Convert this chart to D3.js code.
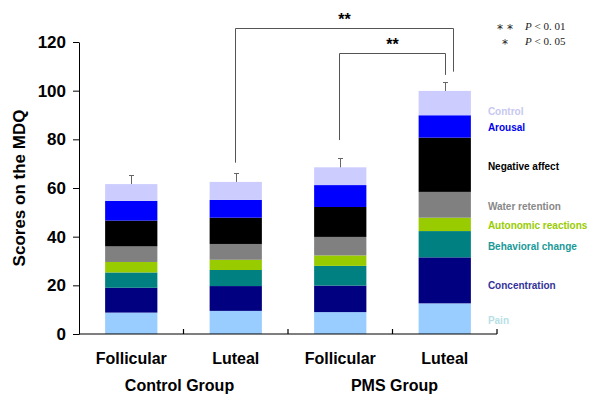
<!DOCTYPE html>
<html><head><meta charset="utf-8">
<script src="https://cdn.jsdelivr.net/npm/d3@7"></script>
<style>body{margin:0;background:#fff}svg{display:block}</style>
</head><body><div id="chart"></div>
<script>
const phases = ["Follicular", "Luteal", "Follicular", "Luteal"];
const groups = ["Control Group", "PMS Group"];
const subscales = ["Pain", "Concentration", "Behavioral change", "Autonomic reactions", "Water retention", "Negative affect", "Arousal", "Control"];
const pain          = [8.8, 9.5, 9.0, 12.6];
const concentration = [10.2, 10.2, 10.9, 18.9];
const behavioral    = [6.3, 6.6, 8.1, 10.8];
const autonomic     = [4.3, 4.2, 4.3, 5.5];
const water         = [6.4, 6.5, 7.6, 10.6];
const negative      = [10.6, 10.8, 12.3, 22.3];
const arousal       = [8.1, 7.3, 9.0, 9.2];
const control       = [6.9, 7.4, 7.3, 10.0];
const errorTops     = [65.3, 66.0, 72.2, 103.4];
const yTicks        = [0, 20, 40, 60, 80, 100, 120];
// significance brackets: bar indexes, level of top line, leg ends
const brackets = [
  {from: 1, to: 3, top: 125.6, leftEnd: 70.4, rightEnd: 107.8, label: "**"},
  {from: 2, to: 3, top: 115.4, leftEnd: 79.7, rightEnd: 106.5, label: "**"}
];
const sigNotes = [["**", "P < 0. 01"], ["*", "P < 0. 05"]];

const segColors = ["#99ccff", "#000080", "#008080", "#99cc00", "#808080", "#000000", "#0000ff", "#ccccff"];
const labelColors = ["#b8dfe6", "#333399", "#1a9999", "#99cc00", "#888888", "#000000", "#0000ee", "#c8c8f0"];
const series = [pain, concentration, behavioral, autonomic, water, negative, arousal, control];

const W = 600, H = 402;
const svg = d3.select("#chart").append("svg").attr("width", W).attr("height", H);

const x = d3.scaleBand().domain(d3.range(phases.length)).range([79, 497]).paddingInner(0.5).paddingOuter(0.25);
const y = d3.scaleLinear().domain([0, 120]).range([334, 42]);

const rows = phases.map((p, i) => { const o = {i}; subscales.forEach((s, k) => o[s] = series[k][i]); return o; });
const stacked = d3.stack().keys(subscales)(rows);

// bars
svg.append("g").selectAll("g").data(stacked).join("g")
  .attr("fill", (d, k) => segColors[k])
  .selectAll("rect").data(d => d).join("rect")
  .attr("x", (d, i) => x(i)).attr("width", x.bandwidth())
  .attr("y", d => y(d[1])).attr("height", d => y(d[0]) - y(d[1]));

// error bars
const totals = rows.map((r, i) => d3.sum(series, s => s[i]));
const eb = svg.append("g").attr("stroke", "#666").attr("stroke-width", 1);
errorTops.forEach((e, i) => {
  const cx = Math.round(x(i) + x.bandwidth() / 2) + 0.5;
  eb.append("line").attr("x1", cx).attr("x2", cx).attr("y1", y(totals[i])).attr("y2", y(e));
  eb.append("line").attr("x1", cx - 2.5).attr("x2", cx + 2.5).attr("y1", Math.round(y(e)) + 0.5).attr("y2", Math.round(y(e)) + 0.5);
});

// axes
const yAxis = svg.append("g").attr("transform", "translate(79,0)")
  .call(d3.axisLeft(y).tickValues(yTicks).tickSize(6).tickPadding(7).tickSizeOuter(0));
yAxis.select(".domain").attr("stroke", "#000");
yAxis.selectAll("text").attr("font-family", "Liberation Sans, Arial, sans-serif").attr("font-weight", "bold").attr("font-size", 17).attr("fill", "#000");

const xb = svg.append("g").attr("stroke", "#000").attr("stroke-width", 1.2);
xb.append("line").attr("x1", 79).attr("x2", 497).attr("y1", 334).attr("y2", 334);
const bounds = d3.range(1, phases.length + 1).map(i => x.range()[0] + i * x.step());
xb.selectAll(".tk").data(bounds).join("line").attr("class", "tk")
  .attr("x1", d => d).attr("x2", d => d).attr("y1", 334).attr("y2", 329);

svg.append("g").selectAll("text").data(phases).join("text")
  .attr("x", (d, i) => x(i) + x.bandwidth() / 2).attr("y", 364)
  .attr("text-anchor", "middle").attr("font-family", "Liberation Sans, Arial, sans-serif")
  .attr("font-weight", "bold").attr("font-size", 16).text(d => d);

svg.append("g").selectAll("text").data(groups).join("text")
  .attr("x", (d, g) => (x(g * 2) + x(g * 2 + 1) + x.bandwidth()) / 2 - (g === 0 ? 4 : -2)).attr("y", 391)
  .attr("text-anchor", "middle").attr("font-family", "Liberation Sans, Arial, sans-serif")
  .attr("font-weight", "bold").attr("font-size", 16).text(d => d);

svg.append("text").attr("transform", "translate(25,188) rotate(-90)")
  .attr("text-anchor", "middle").attr("font-family", "Liberation Sans, Arial, sans-serif")
  .attr("font-weight", "bold").attr("font-size", 17).text("Scores on the MDQ");

// subscale labels beside last bar
const last = phases.length - 1;
const nudge = [2, 5, 2, 1, 2, 2, 1, 8];
svg.append("g").selectAll("text").data(stacked).join("text")
  .attr("x", x(last) + x.bandwidth() + 17)
  .attr("y", (d, k) => y((d[last][0] + d[last][1]) / 2) + nudge[k])
  .attr("dy", "0.35em").attr("font-family", "Liberation Sans, Arial, sans-serif")
  .attr("font-weight", "bold").attr("font-size", 10)
  .attr("fill", (d, k) => labelColors[k]).text(d => d.key);

// brackets
const bg = svg.append("g");
brackets.forEach((b, j) => {
  const x1 = Math.round(x(b.from) + x.bandwidth() / 2) - 0.5;
  const x2 = Math.round(x(b.to) + x.bandwidth() / 2) + (j === 0 ? 8.5 : 0.5);
  const yt = Math.round(y(b.top)) + 0.5;
  bg.append("path").attr("fill", "none").attr("stroke", "#555").attr("stroke-width", 1)
    .attr("d", `M${x1},${y(b.leftEnd)}V${yt}H${x2}V${y(b.rightEnd)}`);
  bg.append("text").attr("x", (x1 + x2) / 2).attr("y", yt - 4).attr("text-anchor", "middle")
    .attr("font-family", "Liberation Sans, Arial, sans-serif").attr("font-weight", "bold").attr("font-size", 16)
    .text(b.label);
});

// significance notes
const sn = svg.append("g").attr("fill", "#222");
sigNotes.forEach((n, j) => {
  sn.append("text").attr("x", 505).attr("y", 33 + j * 15).attr("text-anchor", "middle")
    .attr("font-family", "DejaVu Sans, sans-serif").attr("font-size", 12)
    .text(n[0].split("").join(" "));
  const t = sn.append("text").attr("x", 525).attr("y", 30 + j * 15)
    .attr("font-family", "Liberation Serif, serif").attr("font-size", 11);
  t.append("tspan").attr("font-style", "italic").text(n[1][0]);
  t.append("tspan").text(n[1].slice(1));
});
</script></body></html>
